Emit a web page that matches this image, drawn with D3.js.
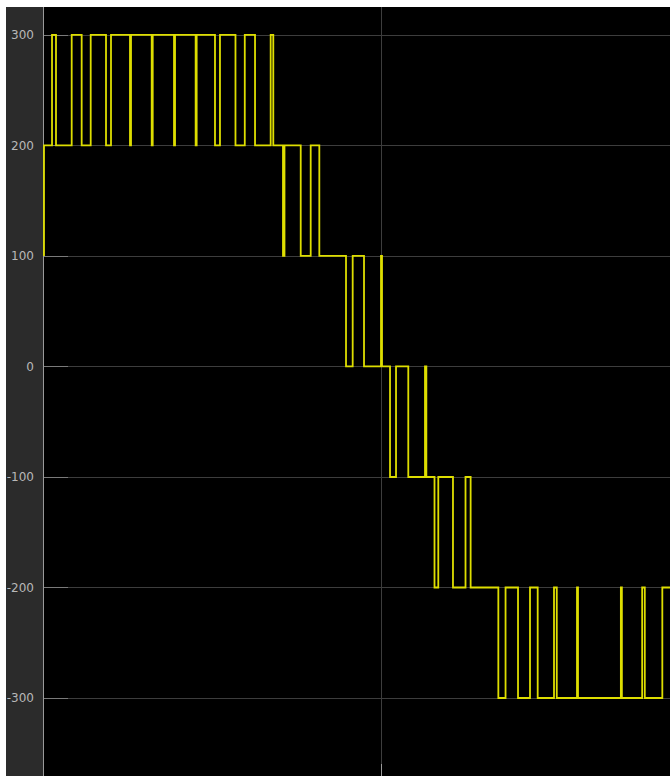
<!DOCTYPE html>
<html>
<head>
<meta charset="utf-8">
<script src="https://cdn.jsdelivr.net/npm/d3@7"></script>
<style>
  html, body { margin: 0; padding: 0; background: #ffffff; }
  svg { display: block; }
</style>
</head>
<body>
<svg id="chart" width="670" height="776"></svg>
<script>
// ---- data (time in s, value) : step signal, value holds until next change ----
const changeTimes = [0, 0, 0.119, 0.178, 0.411, 0.559, 0.693, 0.920, 0.994,
  1.276, 1.291, 1.598, 1.613, 1.929, 1.944, 2.250, 2.265, 2.537, 2.611, 2.841, 2.979, 3.131, 3.363, 3.402,
  3.546, 3.568, 3.809, 3.957, 4.085, 4.481, 4.580, 4.748, 5.000, 5.015,
  5.134, 5.223, 5.405, 5.653, 5.673, 5.794, 5.850, 6.068, 6.254, 6.330, 6.741,
  6.848, 7.033, 7.211, 7.325, 7.567, 7.608, 7.908, 7.923, 8.559, 8.574, 8.875, 8.914, 9.174];
const levels = [100, 200, 300, 200, 300, 200, 300, 200, 300,
  200, 300, 200, 300, 200, 300, 200, 300, 200, 300, 200, 300, 200, 300, 200,
  100, 200, 100, 200, 100, 0, 100, 0, 100, 0,
  -100, 0, -100, 0, -100, -200, -100, -200, -100, -200, -300,
  -200, -300, -200, -300, -200, -300, -200, -300, -200, -300, -200, -300, -200];
const endTime = 9.288;
const yTicks = [-300, -200, -100, 0, 100, 200, 300];
const xTicks = [5];

// ---- layout ----
const svg = d3.select("#chart");
const W = 670, H = 776;
const plot = { left: 44, right: 670, top: 7, bottom: 776 };
const strip = { left: 6, right: 43 };

const x = d3.scaleLinear().domain([0, endTime]).range([plot.left, plot.right]);
const y = d3.scaleLinear().domain([-370.6, 325.3]).range([plot.bottom, plot.top]);

// backgrounds
svg.append("rect").attr("x", 0).attr("y", 0).attr("width", W).attr("height", H).attr("fill", "#ffffff");
svg.append("rect").attr("x", strip.left).attr("y", plot.top).attr("width", strip.right - strip.left + 1)
  .attr("height", H - plot.top).attr("fill", "#2b2b2b");
svg.append("rect").attr("x", plot.left).attr("y", plot.top).attr("width", plot.right - plot.left)
  .attr("height", plot.bottom - plot.top).attr("fill", "#000000");

// horizontal gridlines
const grid = svg.append("g");
grid.selectAll("line.h").data(yTicks).join("line")
  .attr("x1", plot.left).attr("x2", plot.right)
  .attr("y1", d => Math.round(y(d)) + 0.5).attr("y2", d => Math.round(y(d)) + 0.5)
  .attr("stroke", "#3d3d3d").attr("stroke-width", 1);
// brighter inner tick marks
grid.selectAll("line.t").data(yTicks).join("line")
  .attr("x1", plot.left).attr("x2", plot.left + 24)
  .attr("y1", d => Math.round(y(d)) + 0.5).attr("y2", d => Math.round(y(d)) + 0.5)
  .attr("stroke", "#7a7a7a").attr("stroke-width", 1);
// vertical gridline
grid.selectAll("line.v").data(xTicks).join("line")
  .attr("x1", d => Math.round(x(d)) + 0.5).attr("x2", d => Math.round(x(d)) + 0.5)
  .attr("y1", plot.top).attr("y2", plot.bottom)
  .attr("stroke", "#3d3d3d").attr("stroke-width", 1);
grid.selectAll("line.vt").data(xTicks).join("line")
  .attr("x1", d => Math.round(x(d)) + 0.5).attr("x2", d => Math.round(x(d)) + 0.5)
  .attr("y1", plot.bottom - 12).attr("y2", plot.bottom)
  .attr("stroke", "#9a9a9a").attr("stroke-width", 1);

// left axis line
svg.append("line").attr("x1", 43.5).attr("x2", 43.5).attr("y1", plot.top).attr("y2", plot.bottom)
  .attr("stroke", "#9a9a9a").attr("stroke-width", 1);

// y axis labels via d3 axis
const yAxis = d3.axisLeft(y).tickValues(yTicks).tickSize(0).tickPadding(0)
  .tickFormat(d => (d < 0 ? "-" : "") + Math.abs(d));
const ag = svg.append("g").attr("transform", "translate(34,0)").call(yAxis);
ag.select(".domain").remove();
ag.selectAll("text")
  .attr("fill", "#b8b8b8")
  .attr("font-family", "DejaVu Sans, sans-serif")
  .attr("font-size", "12px");

// signal
const pts = changeTimes.map((t, i) => [t, levels[i]]);
pts.push([endTime, levels[levels.length - 1]]);
const line = d3.line().x(d => x(d[0])).y(d => y(d[1])).curve(d3.curveStepAfter);
svg.append("path").datum(pts)
  .attr("d", line)
  .attr("fill", "none")
  .attr("stroke", "#dede00")
  .attr("stroke-width", 1.8)
  .attr("stroke-linejoin", "miter");
</script>
</body>
</html>
